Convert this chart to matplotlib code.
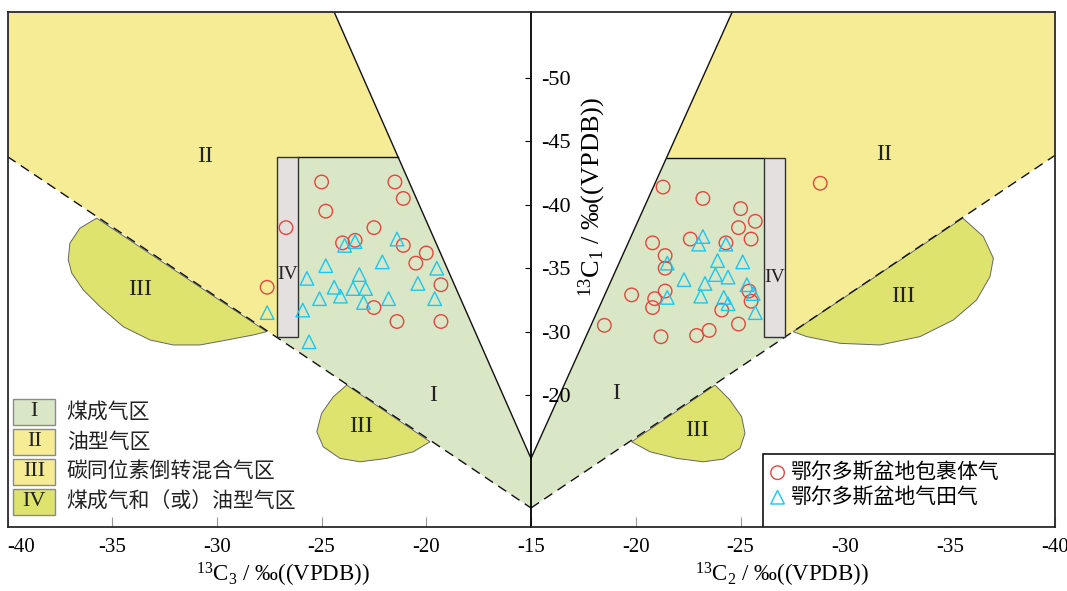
import matplotlib
matplotlib.use("Agg")
import matplotlib.pyplot as plt
from matplotlib.patches import Polygon, Rectangle

plt.rcParams['font.family'] = ['Liberation Serif', 'Noto Sans CJK SC', 'DejaVu Sans']
plt.rcParams['mathtext.fontset'] = 'custom'
plt.rcParams['mathtext.rm'] = 'Liberation Serif'
plt.rcParams['mathtext.it'] = 'Liberation Serif:italic'
plt.rcParams['axes.unicode_minus'] = False

# ---------------- data ----------------
# left panel: delta13C3 (x) vs delta13C1 (y)
incl_c3 = [-25.0, -21.5, -21.1, -24.8, -26.7, -22.5, -24.0, -23.4, -21.1, -20.0,
           -20.5, -19.3, -27.6, -22.5, -21.4, -19.3]
incl_c1_left = [-41.8, -41.8, -40.5, -39.5, -38.2, -38.2, -37.0, -37.2, -36.8, -36.2,
                -35.4, -33.7, -33.5, -31.9, -30.8, -30.8]
field_c3 = [-23.9, -23.4, -21.4, -24.8, -22.1, -25.7, -23.2, -19.5, -24.4, -23.5,
            -22.9, -20.4, -25.1, -24.1, -23.0, -21.8, -19.6, -27.6, -25.9, -25.6]
field_c1_left = [-36.8, -37.1, -37.3, -35.2, -35.5, -34.2, -34.5, -35.0, -33.5, -33.4,
                 -33.4, -33.8, -32.6, -32.8, -32.3, -32.6, -32.6, -31.5, -31.7, -29.2]

# right panel: delta13C2 (x) vs delta13C1 (y)
incl_c2 = [-21.3, -23.2, -25.0, -25.7, -24.9, -20.8, -22.6, -24.3, -25.5, -21.4,
           -21.4, -19.8, -21.4, -20.9, -20.8, -25.4, -25.5, -24.1, -18.5, -24.9,
           -21.2, -22.9, -23.5, -28.8]
incl_c1_right = [-41.4, -40.5, -39.7, -38.7, -38.2, -37.0, -37.3, -37.0, -37.3, -36.0,
                 -35.0, -32.9, -33.2, -32.6, -31.9, -33.2, -32.4, -31.7, -30.5, -30.6,
                 -29.6, -29.7, -30.1, -41.7]
field_c2 = [-23.2, -23.0, -24.3, -21.5, -23.9, -25.1, -23.8, -24.4, -22.3, -23.3,
            -25.3, -23.1, -24.2, -21.5, -25.6, -24.4, -25.7]
field_c1_right = [-37.5, -36.9, -36.9, -35.4, -35.6, -35.5, -34.5, -34.3, -34.1, -33.8,
                  -33.7, -32.8, -32.7, -32.7, -33.0, -32.2, -31.5]

series_labels = ['鄂尔多斯盆地包裹体气', '鄂尔多斯盆地气田气']

# region boundaries (delta13C3 / delta13C2, delta13C1)
Y_TOP, Y_BOT = -55.2, -14.6
left_oil = [(-40, -55.2), (-24.4, -55.2), (-21.35, -43.75), (-27.13, -43.75),
            (-27.13, -29.55), (-40, -43.8)]
left_coal = [(-26.13, -43.75), (-21.35, -43.75), (-15, -20.0), (-15, -16.1),
             (-27.13, -29.55), (-26.13, -29.55)]
left_mix_a = [(-35.74, -38.95), (-36.54, -38.16), (-37.02, -36.98), (-37.1, -35.66),
              (-36.93, -34.61), (-36.38, -33.29), (-35.58, -31.97), (-34.47, -30.39),
              (-33.19, -29.34), (-32.08, -28.95), (-30.81, -28.95), (-29.53, -29.34),
              (-28.26, -29.74), (-27.62, -30.0)]
left_mix_b = [(-23.8, -25.79), (-24.44, -24.87), (-25.0, -23.56), (-25.23, -22.11),
              (-24.92, -20.92), (-24.12, -20.01), (-23.17, -19.74), (-21.89, -20.01),
              (-20.62, -20.53), (-19.82, -21.32)]
left_box = (-27.13, -26.13, -43.75, -29.55)
left_solid = [(-24.4, -55.2), (-15, -20.0)]
left_top = [(-26.13, -43.75), (-21.35, -43.75)]
left_dash = [(-40, -43.8), (-15, -16.1)]

right_oil = [(-40, -55.2), (-24.6, -55.2), (-21.47, -43.7), (-27.13, -43.7),
             (-27.13, -29.6), (-40, -43.9)]
right_coal = [(-26.12, -43.7), (-21.47, -43.7), (-15, -20.0), (-15, -16.1),
              (-27.13, -29.6), (-26.12, -29.6)]
right_mix_a = [(-27.51, -30.0), (-28.15, -29.61), (-29.74, -29.08), (-31.65, -28.95),
               (-33.56, -29.61), (-35.15, -30.92), (-36.26, -32.5), (-36.9, -34.34),
               (-37.06, -35.79), (-36.58, -37.5), (-35.6, -38.95)]
right_mix_b = [(-23.78, -25.79), (-24.49, -24.61), (-25.05, -23.29), (-25.21, -21.98),
               (-24.97, -20.8), (-24.17, -19.95), (-23.22, -19.74), (-21.95, -20.01),
               (-20.68, -20.53), (-19.8, -21.32)]
right_box = (-27.13, -26.12, -43.7, -29.6)
right_solid = [(-24.6, -55.2), (-15, -20.0)]
right_top = [(-26.12, -43.7), (-21.47, -43.7)]
right_dash = [(-15, -16.1), (-40, -43.9)]

# region labels: (text, x, y)
left_region_labels = [('II', -30.57, -43.8), ('III', -33.67, -33.3), ('III', -23.09, -22.5),
                      ('I', -19.67, -25.0), ('IV', -26.63, -34.5)]
right_region_labels = [('II', -31.84, -44.0), ('III', -32.76, -32.76), ('III', -22.93, -22.24),
                       ('I', -19.06, -25.1), ('IV', -26.62, -34.3)]

legend_numerals = ['I', 'II', 'III', 'IV']
legend_texts = ['煤成气区', '油型气区', '碳同位素倒转混合气区', '煤成气和（或）油型气区']

xticks_left = [-40, -35, -30, -25, -20, -15]
xticklabels_left = ['-40', '-35', '-30', '-25', '-20', '-15']
xticks_right = [-20, -25, -30, -35, -40]
xticklabels_right = ['-20', '-25', '-30', '-35', '-40']
yticks = [-50, -45, -40, -35, -30, -25]
yticklabels = ['-50', '-45', '-40', '-35', '-30', '-20']

# ---------------- style ----------------
C_OIL = '#F7EC96'
C_COAL = '#D9E7C6'
C_MIX = '#DEE36E'
C_BOX = '#E4E0DF'
C_RED = '#E0483F'
C_CYAN = '#1CC6EE'
C_FRAME = '#2a2a2a'
CJK = ['Noto Sans CJK SC', 'DejaVu Sans']

fig = plt.figure(figsize=(10.67, 5.91), dpi=100)
W, H = 1067.0, 591.0
axR = fig.add_axes([531 / W, 1 - 527 / H, 524 / W, 515 / H])
axL = fig.add_axes([7.5 / W, 1 - 527 / H, 523.5 / W, 515 / H])
axL.set_zorder(3)
axL.patch.set_visible(False)


def draw_side(ax, oil, coal, mix_a, mix_b, box, solid, top, dash, labels):
    ax.add_patch(Polygon(oil, closed=True, facecolor=C_OIL, edgecolor='none', zorder=1))
    ax.add_patch(Polygon(coal, closed=True, facecolor=C_COAL, edgecolor='none', zorder=1))
    for blob in (mix_a, mix_b):
        ax.add_patch(Polygon(blob, closed=True, facecolor=C_MIX, edgecolor='#666666',
                             linewidth=0.7, zorder=1.5))
    ax.plot([p[0] for p in solid], [p[1] for p in solid], color='#111111', lw=1.0, zorder=2)
    ax.plot([p[0] for p in top], [p[1] for p in top], color='#111111', lw=1.0, zorder=2)
    ax.plot([p[0] for p in dash], [p[1] for p in dash], color='#111111', lw=1.0,
            linestyle=(0, (7, 4.5)), zorder=2)
    x0, x1, y0, y1 = box
    ax.add_patch(Rectangle((min(x0, x1), min(y0, y1)), abs(x1 - x0), abs(y1 - y0),
                           facecolor=C_BOX, edgecolor='#333333', linewidth=1.0, zorder=2.5))
    for t, x, y in labels:
        ax.text(x, y, t, ha='center', va='center', fontsize=14 if t == 'IV' else 17,
                color='#222222', family='Liberation Serif', zorder=3)


draw_side(axL, left_oil, left_coal, left_mix_a, left_mix_b, left_box, left_solid,
          left_top, left_dash, left_region_labels)
draw_side(axR, right_oil, right_coal, right_mix_a, right_mix_b, right_box, right_solid,
          right_top, right_dash, right_region_labels)

mk = dict(s=95, facecolors='none', linewidths=1.0, zorder=5)
axL.scatter(incl_c3, incl_c1_left, marker='o', edgecolors=C_RED, **mk)
axL.scatter(field_c3, field_c1_left, marker='^', edgecolors=C_CYAN, **mk)
h1 = axR.scatter(incl_c2, incl_c1_right, marker='o', edgecolors=C_RED, label=series_labels[0], **mk)
h2 = axR.scatter(field_c2, field_c1_right, marker='^', edgecolors=C_CYAN, label=series_labels[1], **mk)

# axes
axL.set_xlim(-40, -15)
axR.set_xlim(-15, -40)
for ax in (axL, axR):
    ax.set_ylim(Y_BOT, Y_TOP)
    for sp in ax.spines.values():
        sp.set_color(C_FRAME)
        sp.set_linewidth(1.3)
axR.spines['left'].set_visible(False)
axL.spines['right'].set_color('#000000')

axL.yaxis.tick_right()
axL.set_yticks(yticks)
axL.set_yticklabels(yticklabels)
axL.tick_params(axis='y', direction='in', length=4, pad=7, labelsize=16, color='#000000')
axR.set_yticks([])

axL.set_xticks(xticks_left)
axL.set_xticklabels(xticklabels_left)
axR.set_xticks(xticks_right)
axR.set_xticklabels(xticklabels_right)
for ax in (axL, axR):
    ax.tick_params(axis='x', direction='in', length=7, color='#999999', pad=8, labelsize=15)
axL.get_xticklabels()[0].set_horizontalalignment('left')

axL.set_xlabel(r'$^{13}$C$_{3}$ / ‰((VPDB))', fontsize=16.5)
axL.xaxis.set_label_coords(0.526, -0.066)
axR.set_xlabel(r'$^{13}$C$_{2}$ / ‰((VPDB))', fontsize=16.5)
axR.xaxis.set_label_coords(0.479, -0.066)
axL.yaxis.set_label_position('right')
axL.set_ylabel(r'$^{13}$C$_{1}$ / ‰((VPDB))', fontsize=19, rotation=90)
axL.yaxis.set_label_coords(1.088, 0.641)

# left legend (region key)
px0, pw, ph = (13.3 - 7.5) / 523.5, 41.7 / 523.5, 26 / 515
for i, (num, txt) in enumerate(zip(legend_numerals, legend_texts)):
    yb = (527 - 425 - 30 * i) / 515
    fc = [C_COAL, C_OIL, C_OIL, C_MIX][i]
    axL.add_patch(Rectangle((px0, yb), pw, ph, transform=axL.transAxes, facecolor=fc,
                            edgecolor='#8a8a8a', linewidth=1.0, zorder=6, clip_on=False))
    axL.text(px0 + pw / 2, yb + ph / 2, num, transform=axL.transAxes, ha='center',
             va='center', fontsize=16, family='Liberation Serif', color='#222222', zorder=7)
    axL.text((66.7 - 7.5) / 523.5, yb + ph / 2, txt, transform=axL.transAxes, ha='left',
             va='center', fontsize=15, family=CJK, color='#222222', zorder=7)

# right legend (samples)
axR.add_patch(Rectangle(((763 - 531) / 524, 0), 1 - (763 - 531) / 524, (527 - 454) / 515,
                        transform=axR.transAxes, facecolor='white', edgecolor='#111111',
                        linewidth=1.2, zorder=6))
leg = axR.legend(handles=[h1, h2], loc='upper left',
                 bbox_to_anchor=((764 - 531) / 524, (527 - 457) / 515),
                 frameon=False, prop={'family': CJK, 'size': 15}, handlelength=0.9,
                 handletextpad=0.15, labelspacing=0.12, borderpad=0.2, borderaxespad=0)
leg.set_zorder(7)

fig.savefig('out.png', dpi=100)
